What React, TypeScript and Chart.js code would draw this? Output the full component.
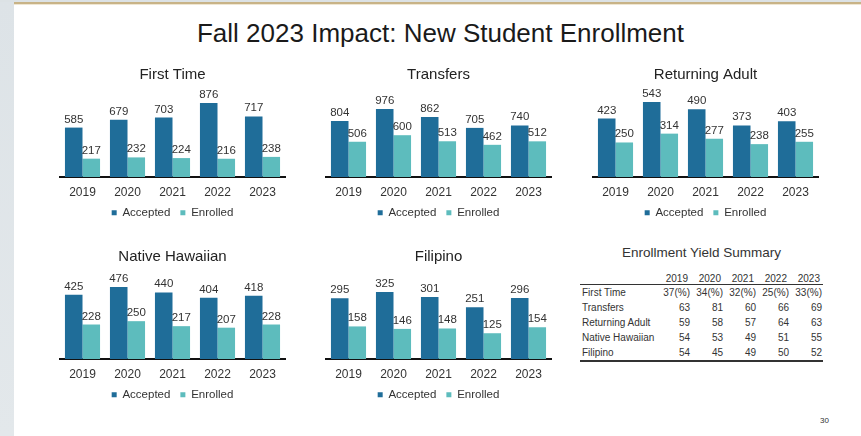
import React, { useEffect, useRef } from "react";
import { Chart, registerables } from "chart.js";

Chart.register(...registerables);

// ---------- data ----------
const years = ["2019", "2020", "2021", "2022", "2023"];

const firstTimeAccepted = [585, 679, 703, 876, 717];
const firstTimeEnrolled = [217, 232, 224, 216, 238];

const transfersAccepted = [804, 976, 862, 705, 740];
const transfersEnrolled = [506, 600, 513, 462, 512];

const returningAccepted = [423, 543, 490, 373, 403];
const returningEnrolled = [250, 314, 277, 238, 255];

const hawaiianAccepted = [425, 476, 440, 404, 418];
const hawaiianEnrolled = [228, 250, 217, 207, 228];

const filipinoAccepted = [295, 325, 301, 251, 296];
const filipinoEnrolled = [158, 146, 148, 125, 154];

const yieldRowLabels = ["First Time", "Transfers", "Returning Adult", "Native Hawaiian", "Filipino"];
const yieldFirstTime = ["37(%)", "34(%)", "32(%)", "25(%)", "33(%)"];
const yieldTransfers = ["63", "81", "60", "66", "69"];
const yieldReturning = ["59", "58", "57", "64", "63"];
const yieldHawaiian = ["54", "53", "49", "51", "55"];
const yieldFilipino = ["54", "45", "49", "50", "52"];

// ---------- styles ----------
const FONT = "'Liberation Sans', Arial, Helvetica, sans-serif";
const ACCEPTED_COLOR = "#1f6d99";
const ENROLLED_COLOR = "#5dbcbd";

const valueLabels = {
  id: "valueLabels",
  afterDatasetsDraw(chart: any) {
    const ctx = chart.ctx;
    ctx.save();
    ctx.font = `11.5px ${FONT}`;
    ctx.fillStyle = "#333333";
    ctx.textAlign = "center";
    ctx.textBaseline = "alphabetic";
    chart.data.datasets.forEach((ds: any, i: number) => {
      const meta = chart.getDatasetMeta(i);
      meta.data.forEach((el: any, j: number) => {
        ctx.fillText(String(ds.data[j]), el.x, el.y - 5);
      });
    });
    ctx.restore();
  },
};

type PanelProps = {
  title: string;
  accepted: number[];
  enrolled: number[];
  yMax: number;
  left: number;
  top: number;
};

function BarPanel({ title, accepted, enrolled, yMax, left, top }: PanelProps) {
  const ref = useRef<HTMLCanvasElement>(null);
  useEffect(() => {
    const chart = new Chart(ref.current as HTMLCanvasElement, {
      type: "bar",
      data: {
        labels: years,
        datasets: [
          { label: "Accepted", data: accepted, backgroundColor: ACCEPTED_COLOR, borderWidth: 0 },
          { label: "Enrolled", data: enrolled, backgroundColor: ENROLLED_COLOR, borderWidth: 0 },
        ],
      },
      options: {
        animation: false,
        responsive: false,
        maintainAspectRatio: false,
        devicePixelRatio: 1,
        layout: { padding: { top: 6, left: 20, right: 20, bottom: 1.5 } },
        datasets: { bar: { categoryPercentage: 0.78, barPercentage: 1 } },
        scales: {
          x: {
            grid: { display: false, drawTicks: false },
            border: { display: true, color: "#111111", width: 2 },
            ticks: { font: { size: 12, family: FONT }, color: "#333333", padding: 8 },
            afterFit: (s: any) => {
              s.height = 20;
            },
          },
          y: { display: false, min: 0, max: yMax },
        },
        plugins: {
          title: {
            display: true,
            text: title,
            font: { size: 15, family: FONT, weight: "normal" },
            color: "#222222",
            padding: { top: 0, bottom: 6 },
          },
          legend: {
            position: "bottom",
            labels: {
              usePointStyle: true,
              pointStyle: "rect",
              boxWidth: 5,
              boxHeight: 5,
              padding: 10,
              font: { size: 11.5, family: FONT },
              color: "#333333",
            },
          },
          tooltip: { enabled: false },
        },
      } as any,
      plugins: [valueLabels],
    });
    return () => chart.destroy();
  }, []);
  return (
    <canvas
      ref={ref}
      width={265}
      height={170}
      style={{ position: "absolute", left, top, width: 265, height: 170 }}
    />
  );
}

function YieldTable() {
  const rows = [yieldFirstTime, yieldTransfers, yieldReturning, yieldHawaiian, yieldFilipino];
  const colW = 33;
  const labelW = 75;
  const cell = (t: string, k: number) => (
    <div key={k} style={{ width: colW, textAlign: "right" }}>
      {t}
    </div>
  );
  return (
    <div style={{ position: "absolute", left: 580, top: 244, width: 243, color: "#333", fontFamily: FONT }}>
      <div style={{ textAlign: "center", fontSize: 13.5, lineHeight: "18px", height: 18 }}>
        Enrollment Yield Summary
      </div>
      <div
        style={{
          position: "absolute",
          top: 29,
          left: 0,
          width: 243,
          height: 11,
          display: "flex",
          fontSize: 10,
          lineHeight: "11px",
          borderBottom: "1px solid #333",
        }}
      >
        <div style={{ width: labelW }} />
        {years.map((y, k) => cell(y, k))}
      </div>
      {rows.map((r, i) => (
        <div
          key={i}
          style={{
            position: "absolute",
            top: 41 + i * 15,
            left: 0,
            width: 243,
            height: 15,
            display: "flex",
            alignItems: "center",
            fontSize: 10,
            lineHeight: "15px",
            borderBottom: i === rows.length - 1 ? "2px solid #333" : "none",
          }}
        >
          <div style={{ width: labelW, paddingLeft: 2 }}>{yieldRowLabels[i]}</div>
          {r.map((v, k) => cell(v, k))}
        </div>
      ))}
    </div>
  );
}

export default function App() {
  return (
    <div
      style={{
        position: "absolute",
        left: 0,
        top: 0,
        width: 861,
        height: 436,
        background: "#ffffff",
        overflow: "hidden",
        fontFamily: FONT,
      }}
    >
      <div style={{ position: "absolute", left: 0, top: 0, width: 14, height: 436, background: "linear-gradient(#dde3e7, #e3e8eb)" }} />
      <div style={{ position: "absolute", left: 0, top: 0, width: 861, height: 2, background: "#dce2e5" }} />
      <div style={{ position: "absolute", left: 14, top: 2, width: 847, height: 2, background: "#c8b387" }} />
      <div style={{ position: "absolute", left: 14, top: 4, width: 847, height: 1, background: "#efe6d2" }} />
      <div
        style={{
          position: "absolute",
          left: 0,
          top: 18,
          width: 881,
          textAlign: "center",
          fontSize: 26,
          lineHeight: "30px",
          color: "#1a1a1a",
        }}
      >
        Fall 2023 Impact: New Student Enrollment
      </div>

      <BarPanel title="First Time" accepted={firstTimeAccepted} enrolled={firstTimeEnrolled} yMax={1030} left={40} top={60} />
      <BarPanel title="Transfers" accepted={transfersAccepted} enrolled={transfersEnrolled} yMax={1249} left={306} top={60} />
      <BarPanel title="Returning Adult" accepted={returningAccepted} enrolled={returningEnrolled} yMax={630} left={573} top={60} />
      <BarPanel title="Native Hawaiian" accepted={hawaiianAccepted} enrolled={hawaiianEnrolled} yMax={575} left={40} top={242} />
      <BarPanel title="Filipino" accepted={filipinoAccepted} enrolled={filipinoEnrolled} yMax={422} left={306} top={242} />

      <YieldTable />

      <div style={{ position: "absolute", left: 820, top: 416, fontSize: 8, color: "#333" }}>30</div>
    </div>
  );
}
